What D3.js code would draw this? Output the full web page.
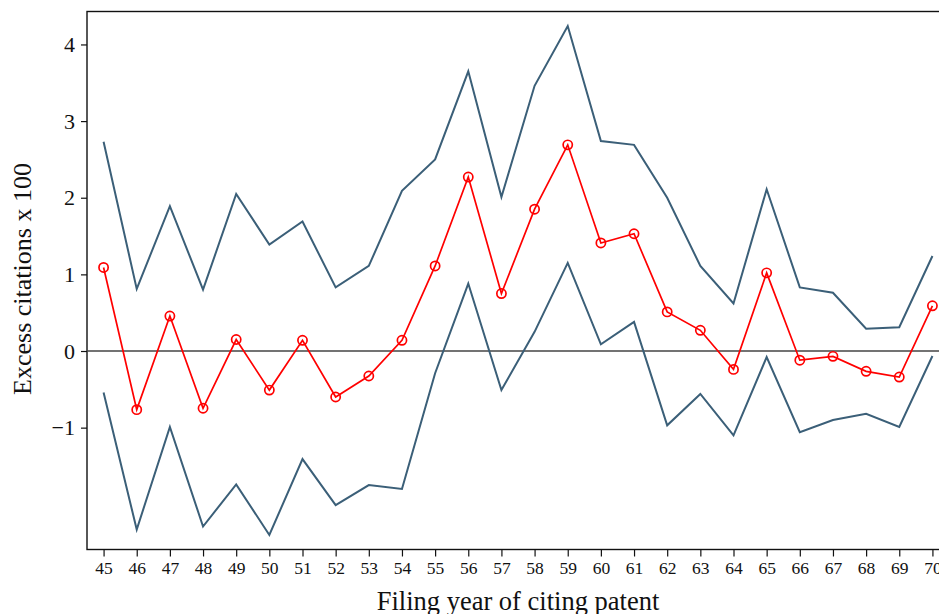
<!DOCTYPE html>
<html>
<head>
<meta charset="utf-8">
<script src="https://cdn.jsdelivr.net/npm/d3@7"></script>
<style>
  html, body { margin: 0; padding: 0; background: #fff; overflow: hidden; }
  svg { display: block; font-family: "Liberation Serif", "DejaVu Serif", serif; }
</style>
</head>
<body>
<svg id="chart" width="939" height="614"></svg>
<script>
// Filing year of citing patent (19xx)
const years = [45,46,47,48,49,50,51,52,53,54,55,56,57,58,59,60,61,62,63,64,65,66,67,68,69,70];

// Point estimate of excess citations (x 100)
const estimate = [1.09,-0.765,0.456,-0.747,0.15,-0.51,0.14,-0.60,-0.326,0.14,1.11,2.27,0.75,1.85,2.69,1.41,1.53,0.51,0.27,-0.24,1.02,-0.12,-0.07,-0.265,-0.34,0.59];

// Upper and lower confidence bounds
const upper = [2.73,0.81,1.89,0.80,2.05,1.39,1.69,0.83,1.11,2.09,2.50,3.65,2.01,3.46,4.24,2.74,2.69,2.00,1.11,0.62,2.11,0.83,0.76,0.29,0.31,1.24];
const lower = [-0.54,-2.33,-0.99,-2.29,-1.74,-2.40,-1.41,-2.01,-1.75,-1.80,-0.29,0.88,-0.51,0.25,1.15,0.087,0.38,-0.97,-0.56,-1.10,-0.08,-1.06,-0.90,-0.82,-0.99,-0.065];

// Axis ticks
const yTicks = [-1,0,1,2,3,4];

const svg = d3.select("#chart");
const plotLeft = 87, plotRight = 949, plotTop = 11.5, plotBottom = 549.5;

const x = d3.scaleLinear().domain([44.5, 70.5]).range([plotLeft, plotRight]);
const y = d3.scaleLinear().domain([-2.59, 4.43]).range([plotBottom, plotTop]);

const ink = "#111";

// Frame around the plot region
svg.append("rect")
  .attr("x", plotLeft).attr("y", plotTop)
  .attr("width", plotRight - plotLeft).attr("height", plotBottom - plotTop)
  .attr("fill", "none").attr("stroke", ink).attr("stroke-width", 1.4);

// Zero reference line
svg.append("line")
  .attr("x1", plotLeft).attr("x2", plotRight)
  .attr("y1", y(0)).attr("y2", y(0))
  .attr("stroke", "#444").attr("stroke-width", 1.6);

// X axis
const xAxis = d3.axisBottom(x).tickValues(years).tickFormat(d3.format("d"))
  .tickSize(7).tickPadding(5).tickSizeOuter(0);
const gx = svg.append("g").attr("transform", `translate(0,${plotBottom})`).call(xAxis);
gx.select(".domain").remove();
gx.selectAll(".tick line").attr("stroke", ink).attr("stroke-width", 1.2);
gx.selectAll(".tick text").attr("fill", ink)
  .style("font-family", "Liberation Serif, serif").style("font-size", "17.5px");

// Y axis
const yAxis = d3.axisLeft(y).tickValues(yTicks)
  .tickFormat(d => d < 0 ? "\u2212" + Math.abs(d) : String(d))
  .tickSize(6).tickPadding(6).tickSizeOuter(0);
const gy = svg.append("g").attr("transform", `translate(${plotLeft},0)`).call(yAxis);
gy.select(".domain").remove();
gy.selectAll(".tick line").attr("stroke", ink).attr("stroke-width", 1.2);
gy.selectAll(".tick text").attr("fill", ink)
  .style("font-family", "Liberation Serif, serif").style("font-size", "22px");

// Confidence bounds
const line = d3.line().x((d, i) => x(years[i])).y(d => y(d));
[upper, lower].forEach(series => {
  svg.append("path").datum(series)
    .attr("d", line)
    .attr("fill", "none")
    .attr("stroke", "#3b5f78")
    .attr("stroke-width", 2)
    .attr("stroke-linejoin", "miter");
});

// Point estimates
svg.append("path").datum(estimate)
  .attr("d", line)
  .attr("fill", "none")
  .attr("stroke", "#ff0000")
  .attr("stroke-width", 1.7);

svg.append("g").selectAll("circle").data(estimate).join("circle")
  .attr("cx", (d, i) => x(years[i]))
  .attr("cy", d => y(d))
  .attr("r", 4.6)
  .attr("fill", "none")
  .attr("stroke", "#ff0000")
  .attr("stroke-width", 1.7);

// Axis titles
svg.append("text")
  .attr("x", 518).attr("y", 610)
  .attr("text-anchor", "middle")
  .attr("fill", ink)
  .style("font-size", "26.5px")
  .text("Filing year of citing patent");

svg.append("text")
  .attr("transform", `translate(31,279) rotate(-90)`)
  .attr("text-anchor", "middle")
  .attr("fill", ink)
  .style("font-size", "26px")
  .text("Excess citations x 100");
</script>
</body>
</html>
